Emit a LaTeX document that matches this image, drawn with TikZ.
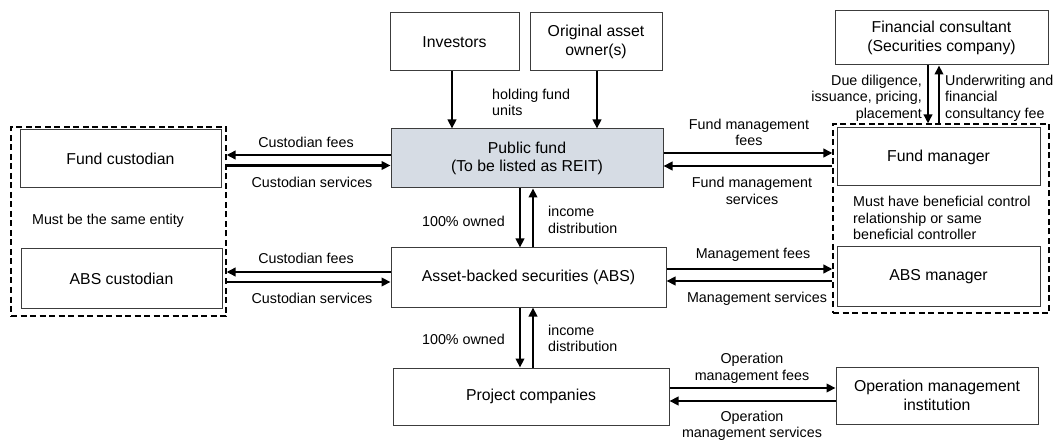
\documentclass[tikz,border=0pt]{standalone}
\usepackage{fontspec}
\setmainfont{Liberation Sans}
\usetikzlibrary{arrows.meta}
\definecolor{pfill}{RGB}{214,220,228}
\definecolor{bline}{RGB}{60,60,60}
\begin{document}
\begin{tikzpicture}[x=1pt,y=-1pt,
  box/.style={draw=bline, line width=1pt, rectangle, inner sep=0pt, align=center,
              font=\fontsize{15.8}{18.5}\selectfont},
  grp/.style={draw=black, line width=1.2pt, dash pattern=on 6pt off 3.5pt, rectangle, inner sep=0pt},
  lbl/.style={font=\fontsize{14.3}{16.5}\selectfont, inner sep=0pt, align=center},
  arr/.style={line width=2.4pt, -{Triangle[length=9pt,width=8.5pt]}},
]
\useasboundingbox (0,0) rectangle (1056,443);

% groups
\node[grp, minimum width=215pt, minimum height=189pt] (lgrp) at (118.5,221.5) {};
\node[grp, minimum width=216pt, minimum height=189pt] (rgrp) at (941,218.5) {};

% boxes
\node[box, minimum width=129pt, minimum height=58pt] (inv) at (454.5,42) {Investors};
\node[box, minimum width=132pt, minimum height=58pt] (own) at (596,42) {Original asset\\owner(s)};
\node[box, fill=pfill, minimum width=272pt, minimum height=59pt] (pf) at (527,158.5) {Public fund\\(To be listed as REIT)};
\node[box, minimum width=275pt, minimum height=59pt] (abs) at (528.5,277.5) {Asset-backed securities (ABS)};
\node[box, minimum width=276pt, minimum height=57pt] (pc) at (531,396.5) {Project companies};
\node[box, minimum width=201pt, minimum height=58pt] (fcu) at (120.5,159) {Fund custodian};
\node[box, minimum width=201pt, minimum height=59pt] (acu) at (121.5,278.5) {ABS custodian};
\node[box, minimum width=213pt, minimum height=54pt] (fin) at (941.5,38) {Financial consultant\\(Securities company)};
\node[box, minimum width=203pt, minimum height=58pt] (fm) at (938.5,157) {Fund manager};
\node[box, minimum width=203pt, minimum height=59pt] (am) at (938.5,276.5) {ABS manager};
\node[box, minimum width=202pt, minimum height=57pt] (omi) at (937,395.5) {Operation management\\institution};

% group texts
\node[lbl] (same) at (108,221) {Must be the same entity};
\node[lbl, anchor=west, align=left] (benef) at (853,218) {Must have beneficial control\\relationship or same\\beneficial controller};

% vertical arrows
\draw[arr] ([xshift=-2.5pt]inv.south) -- ([xshift=-2.5pt]inv.south |- pf.north);
\draw[arr] ([xshift=1pt]own.south) -- ([xshift=1pt]own.south |- pf.north);
\draw[arr] ([xshift=-7pt]pf.south) -- ([xshift=-7pt]pf.south |- abs.north);
\draw[arr] ([xshift=6pt]pf.south |- abs.north) -- ([xshift=6pt]pf.south);
\draw[arr] ([xshift=-8.5pt]abs.south) -- ([xshift=-8.5pt]abs.south |- pc.north);
\draw[arr] ([xshift=4.5pt]abs.south |- pc.north) -- ([xshift=4.5pt]abs.south);
\draw[arr] ([xshift=-13.5pt]fin.south) -- ([xshift=-13.5pt]fin.south |- rgrp.north);
\draw[arr] ([xshift=-2.5pt]fin.south |- rgrp.north) -- ([xshift=-2.5pt]fin.south);

% horizontal arrows, left
\draw[arr] ([yshift=3.5pt]pf.west) -- ([yshift=3.5pt]pf.west -| lgrp.east);
\draw[arr] ([yshift=-7pt]pf.west -| lgrp.east) -- ([yshift=-7pt]pf.west);
\draw[arr] ([yshift=5.5pt]abs.west) -- ([yshift=5.5pt]abs.west -| lgrp.east);
\draw[arr] ([yshift=-4.5pt]abs.west -| lgrp.east) -- ([yshift=-4.5pt]abs.west);

% horizontal arrows, right
\draw[arr] ([yshift=5.5pt]pf.east) -- ([yshift=5.5pt]pf.east -| rgrp.west);
\draw[arr] ([yshift=-7.5pt]pf.east -| rgrp.west) -- ([yshift=-7.5pt]pf.east);
\draw[arr] ([yshift=8.5pt]abs.east) -- ([yshift=8.5pt]abs.east -| rgrp.west);
\draw[arr] ([yshift=-3.5pt]abs.east -| rgrp.west) -- ([yshift=-3.5pt]abs.east);
\draw[arr] ([yshift=8.5pt]pc.east) -- ([yshift=8.5pt]pc.east -| omi.west);
\draw[arr] ([yshift=-4.5pt]pc.east -| omi.west) -- ([yshift=-4.5pt]pc.east);

% labels
\node[lbl] (cf1) at (306,142) {Custodian fees};
\node[lbl] (cs1) at (312,182) {Custodian services};
\node[lbl] (cf2) at (306,258) {Custodian fees};
\node[lbl] (cs2) at (312,298) {Custodian services};
\node[lbl, anchor=west, align=left] (hold) at (492,102.5) {holding fund\\units};
\node[lbl, anchor=east] (own1) at (505,221) {100\% owned};
\node[lbl, anchor=west, align=left] (inc1) at (548,220) {income\\distribution};
\node[lbl, anchor=east] (own2) at (505,339) {100\% owned};
\node[lbl, anchor=west, align=left] (inc2) at (548,338.5) {income\\distribution};
\node[lbl] (fmf) at (749,132.5) {Fund management\\fees};
\node[lbl] (fms) at (752,191) {Fund management\\services};
\node[lbl] (mf) at (753,255) {Management fees};
\node[lbl] (ms) at (757,299) {Management services};
\node[lbl] (omf) at (752,368.5) {Operation\\management fees};
\node[lbl] (oms) at (752,426) {Operation\\management services};
\node[lbl, anchor=east, align=right] (dd) at (922,98) {Due diligence,\\issuance, pricing,\\placement};
\node[lbl, anchor=west, align=left] (uw) at (945,98) {Underwriting and\\financial\\consultancy fee};
\end{tikzpicture}
\end{document}
